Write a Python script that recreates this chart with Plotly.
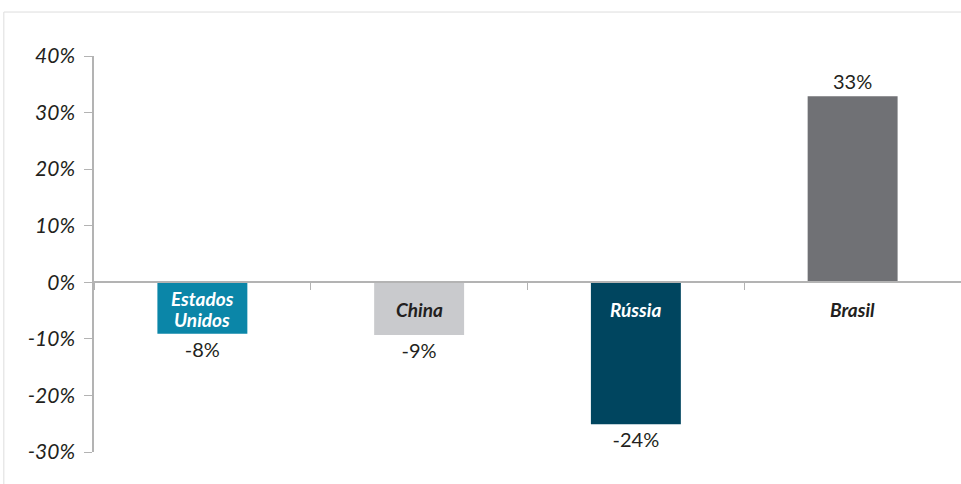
import plotly.graph_objects as go

# Data
countries = ["Estados Unidos", "China", "Rússia", "Brasil"]
country_labels = ["Estados<br>Unidos", "China", "Rússia", "Brasil"]
values = [-9.1, -9.3, -25.1, 32.9]          # bar heights (%)
value_labels = ["-8%", "-9%", "-24%", "33%"]  # printed labels
bar_colors = ["#0B86A8", "#C9CACD", "#00455F", "#707175"]
label_colors = ["#FFFFFF", "#231F20", "#FFFFFF", "#231F20"]
y_ticks = [-30, -20, -10, 0, 10, 20, 30, 40]

fig = go.Figure()
fig.add_trace(go.Bar(
    x=countries,
    y=values,
    marker=dict(color=bar_colors, line=dict(width=0)),
    width=0.415,
    text=value_labels,
    textposition="outside",
    textfont=dict(family="Lato", size=20, color="#231F20"),
    cliponaxis=False,
    hoverinfo="skip",
))

LINE_GAP = 21
for c, lab, col in zip(countries, country_labels, label_colors):
    lines = lab.split("<br>")
    n = len(lines)
    for i, ln in enumerate(lines):
        offset = (i - (n - 1) / 2) * LINE_GAP
        fig.add_annotation(
            x=c, y=0, xref="x", yref="y",
            text=f"<b><i>{ln}</i></b>",
            showarrow=False,
            yanchor="middle",
            yshift=-27 - offset,
            font=dict(family="Lato", size=19, color=col),
        )

# light frame around the chart
fig.add_shape(
    type="rect", xref="paper", yref="paper",
    x0=-0.104, x1=1.02, y0=-0.3, y1=1.111,
    line=dict(color="#DDDDDD", width=1), fillcolor="rgba(0,0,0,0)", layer="below",
)

fig.update_layout(
    width=961, height=484,
    margin=dict(l=94, r=0, t=56, b=32),
    plot_bgcolor="white", paper_bgcolor="white",
    showlegend=False,
    font=dict(family="Lato", color="#231F20"),
)

fig.update_xaxes(
    type="category",
    range=[-0.5, 3.5],
    anchor="free", position=3/7,
    showline=True, linecolor="#B3B3B3", linewidth=1.5,
    ticks="outside", tickson="boundaries", ticklen=7, tickcolor="#B3B3B3",
    showticklabels=False, showgrid=False, zeroline=False,
)

fig.update_yaxes(
    range=[-30, 40],
    tickvals=y_ticks,
    ticktext=[f"<i>{v}%</i>" for v in y_ticks],
    showline=True, linecolor="#B3B3B3", linewidth=1.5,
    ticks="outside", ticklen=8, tickcolor="#B3B3B3",
    ticklabelstandoff=5,
    tickfont=dict(family="Lato", size=21, color="#231F20"),
    showgrid=False, zeroline=False,
)

fig.write_html("out.html")
